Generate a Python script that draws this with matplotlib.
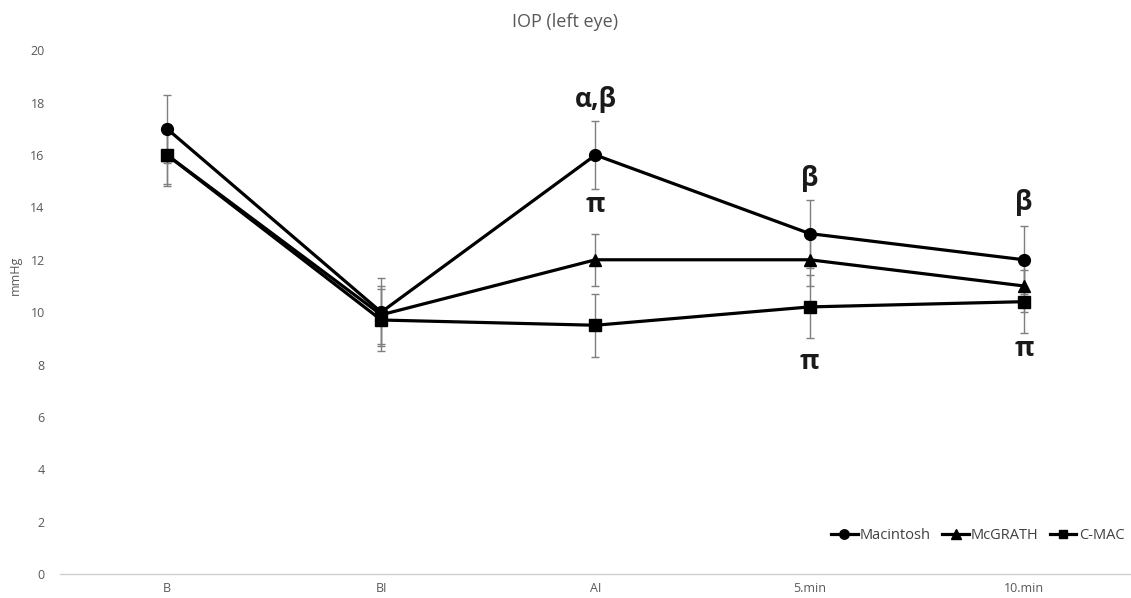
import matplotlib
matplotlib.use("Agg")
import matplotlib.pyplot as plt

# data
times = ["B", "BI", "AI", "5.min", "10.min"]
macintosh = [17, 10, 16, 13, 12]
mcgrath = [16, 9.9, 12, 12, 11]
cmac = [16, 9.7, 9.5, 10.2, 10.4]
macintosh_sd = [1.3, 1.3, 1.3, 1.3, 1.3]
mcgrath_sd = [1.1, 1.1, 1.0, 1.0, 1.0]
cmac_sd = [1.2, 1.2, 1.2, 1.2, 1.2]

# significance marks: (category index, y, text)
marks = [(2, 18.1, "α,β"), (2, 14.1, "π"), (3, 15.1, "β"),
         (4, 14.2, "β"), (3, 8.1, "π"), (4, 8.6, "π")]

GREY = "#595959"
plt.rcParams['font.family'] = ['Open Sans', 'DejaVu Sans']

fig = plt.figure(figsize=(11.31, 5.98), dpi=100)
ax = fig.add_axes([0.053, 0.040, 0.947, 0.876])

x = list(range(len(times)))
series = [(macintosh, macintosh_sd, "o", 8.5, "Macintosh"),
          (mcgrath, mcgrath_sd, "^", 8.5, "McGRATH"),
          (cmac, cmac_sd, "s", 8, "C-MAC")]

for vals, sd, mk, ms, name in series:
    ax.errorbar(x, vals, yerr=sd, fmt="none", ecolor="#7f7f7f",
                elinewidth=1.0, capsize=3, capthick=1.0, zorder=2)
for vals, sd, mk, ms, name in series:
    ax.plot(x, vals, color="black", lw=2.3, marker=mk, markersize=ms,
            label=name, zorder=3)

for i, y, txt in marks:
    ax.text(i, y, txt, ha="center", va="center", fontsize=19,
            fontweight="bold", color="#1a1a1a")

ax.set_xlim(-0.5, len(times) - 0.5)
ax.set_ylim(0, 20)
ax.set_yticks(range(0, 21, 2))
ax.set_xticks(x)
ax.set_xticklabels(times)
ax.tick_params(axis="both", length=0, labelsize=9, colors=GREY)
ax.tick_params(axis="y", pad=11)
ax.tick_params(axis="x", pad=6)

for s in ["top", "right", "left"]:
    ax.spines[s].set_visible(False)
ax.spines["bottom"].set_color("#d0d0d0")
ax.spines["bottom"].set_linewidth(1.0)

fig.text(15 / 1131, 0.54, "mmHg", rotation=90, ha="center", va="center",
         fontsize=9, color=GREY)
fig.text(0.5, 0.963, "IOP (left eye)", ha="center", va="center",
         fontsize=13, color=GREY)

leg = ax.legend(loc="lower right", bbox_to_anchor=(1.006, 0.035), ncol=3,
                frameon=False, fontsize=10.5, handlelength=1.8,
                handletextpad=0.15, columnspacing=0.8, markerscale=0.8)
for t in leg.get_texts():
    t.set_color("#404040")

fig.savefig("out.png", dpi=100)
